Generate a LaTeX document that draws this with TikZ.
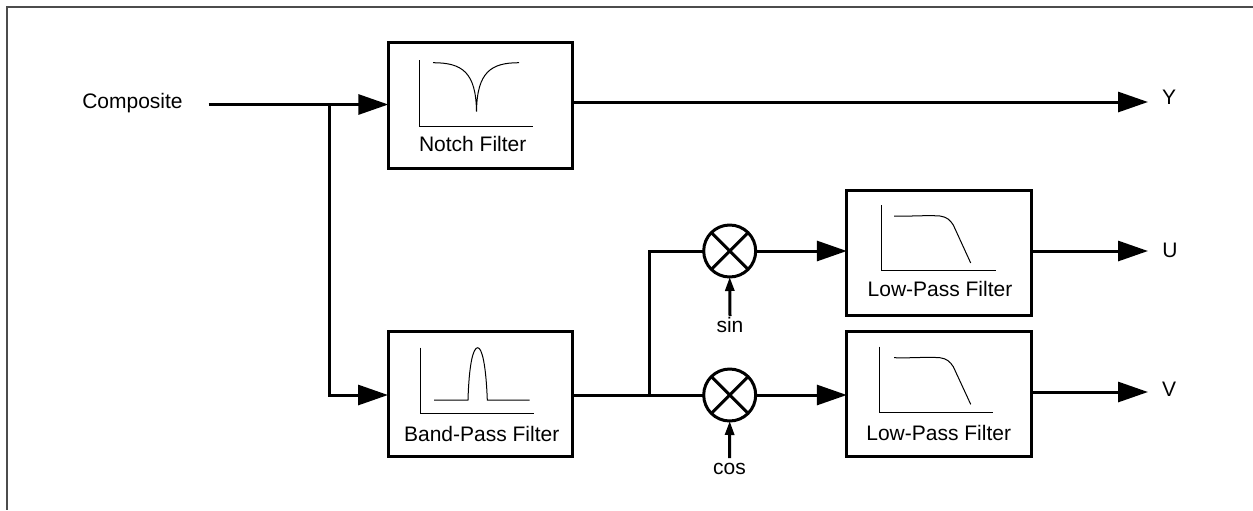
\documentclass[tikz,border=0pt]{standalone}
\usepackage{fontspec}
\setmainfont{Liberation Sans}
\usetikzlibrary{arrows.meta}
\tikzset{
    filterbox/.style={draw, line width=1.5pt, inner sep=0pt, outer sep=0pt, minimum width=92.2pt, minimum height=62.7pt},
    mixer/.style={draw, circle, line width=1.5pt, inner sep=0pt, outer sep=0pt, minimum size=26pt},
    sigline/.style={line width=1.5pt},
    sigarrow/.style={line width=1.5pt, -{Triangle[length=15pt,width=10pt]}},
    lofarrow/.style={line width=1.5pt, -{Triangle[length=7pt,width=4.5pt]}},
    plotline/.style={line width=0.5pt},
    lbl/.style={inner sep=0pt, outer sep=0pt, font=\fontsize{10.5}{12}\selectfont}
}
\begin{document}
\begin{tikzpicture}[x=0.5pt,y=-0.5pt]
    \useasboundingbox (0,0) rectangle (1253,510);
    \draw [line width=1pt, black!70] (1253,7) -- (7,7) -- (7,510);

    \node [filterbox] (notch) at (480.5,105.5) {};
    \node [filterbox] (bpf) at (480.5,393.7) {};
    \node [filterbox] (lpfu) at (939,252.7) {};
    \node [filterbox] (lpfv) at (939,393.7) {};
    \node [mixer] (mixu) at (729.7,251) {};
    \node [mixer] (mixv) at (729.7,395) {};
    \foreach \m in {mixu,mixv} {
        \draw [line width=1.5pt] (\m.north west) -- (\m.south east);
        \draw [line width=1.5pt] (\m.north east) -- (\m.south west);
    }

    \node [lbl,anchor=base] (comp) at (132.5,108) {Composite};
    \node [lbl,anchor=base] (y) at (1169,104) {Y};
    \node [lbl,anchor=base] (u) at (1170,257) {U};
    \node [lbl,anchor=base] (v) at (1169,396) {V};
    \node [lbl,anchor=base] (sin) at (730,332) {sin};
    \node [lbl,anchor=base] (cos) at (729.5,474) {cos};
    \node [lbl,anchor=base] (notchtxt) at (472.7,151.7) {Notch Filter};
    \node [lbl,anchor=base] (bpftxt) at (481.7,441.7) {Band-Pass Filter};
    \node [lbl,anchor=base] (lpfutxt) at (940,296) {Low-Pass Filter};
    \node [lbl,anchor=base] (lpfvtxt) at (938.7,440) {Low-Pass Filter};

    \coordinate (compout) at (208.5,104.5);
    \coordinate (tap) at (329,104.5);
    \coordinate (bpfin) at (388,395);
    \coordinate (notchout) at (573,102);
    \coordinate (yend) at (1148,102);
    \coordinate (bpfout) at (572.7,395);
    \coordinate (fork) at (649,395);
    \coordinate (uend) at (1148,251);
    \coordinate (lpfvout) at (1031,392);
    \coordinate (vend) at (1148,392);
    \coordinate (sinend) at (730,316);
    \coordinate (cosend) at (729.5,458);

    \draw [sigarrow] (compout) -- (notch.west |- compout);
    \draw [sigarrow] (tap) |- (bpfin);
    \draw [sigline] (notchout) -- (notchout -| notch.east);
    \draw [sigarrow] (notchout) -- (yend);
    \draw [sigline] (bpfout) -- (mixv.west);
    \draw [sigline] (fork) |- (mixu.west);
    \draw [sigarrow] (mixu.east) -- (lpfu.west |- mixu.east);
    \draw [sigarrow] (mixv.east) -- (lpfv.west |- mixv.east);
    \draw [sigarrow] (lpfu.east |- uend) -- (uend);
    \draw [sigarrow] (lpfvout) -- (vend);
    \draw [lofarrow] (sinend) -- (mixu.south);
    \draw [lofarrow] (cosend) -- (mixv.south);

    % notch response
    \draw [plotline] (419,60) -- (419,126) -- (532.7,126);
    \draw [plotline] (433,62.7) .. controls (462,62.7) and (476,72) .. (476.5,111.7)
        .. controls (477,72) and (491,62.7) .. (519,62.7);
    % band-pass response
    \draw [plotline] (420.3,347.7) -- (420.3,413.7) -- (534.3,413.7);
    \draw [plotline] (434,400) -- (468,400) .. controls (469,365) and (473,347.7) .. (477.7,347.7)
        .. controls (482,347.7) and (486,365) .. (487.3,400) -- (529.7,400);
    % low-pass responses
    \draw [plotline] (881.7,205) -- (881.7,270.7) -- (995.7,270.7);
    \draw [plotline] (894,216) .. controls (915,216.5) and (925,215) .. (940,216)
        .. controls (947,217) and (950,220) .. (953.3,225) -- (970.7,263);
    \draw [plotline] (879,346.7) -- (879,412.3) -- (993,412.3);
    \draw [plotline] (894,357.7) .. controls (915,358.2) and (925,356.7) .. (940,357.7)
        .. controls (947,358.7) and (950,361.7) .. (953.3,366.7) -- (970.7,404.3);
\end{tikzpicture}
\end{document}
